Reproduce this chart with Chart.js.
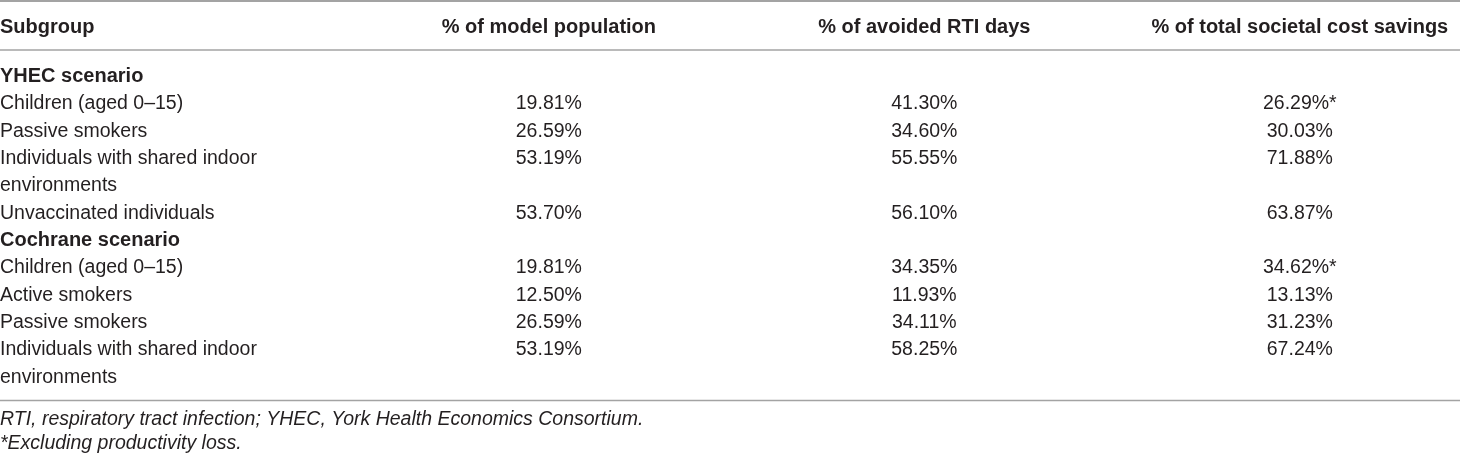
<!DOCTYPE html>
<html lang="en">
<head>
    <meta charset="UTF-8">
    <title>Subgroup shares</title>
    <script src="https://cdn.jsdelivr.net/npm/chart.js"></script>
    <style>
        html, body { margin: 0; padding: 0; background: #fff; }
        .chart-container { width: 1460px; height: 459px; position: relative; }
    </style>
</head>
<body>

<div class="chart-container">
    <canvas id="subgroupTable"></canvas>
</div>

<script>
    // Table content
    const columnHeaders = ['Subgroup', '% of model population', '% of avoided RTI days', '% of total societal cost savings'];
    const scenarios = ['YHEC scenario', 'Cochrane scenario'];

    const yhecGroups = ['Children (aged 0–15)', 'Passive smokers', 'Individuals with shared indoor environments', 'Unvaccinated individuals'];
    const yhecPopulation = [19.81, 26.59, 53.19, 53.70];
    const yhecAvoidedDays = [41.30, 34.60, 55.55, 56.10];
    const yhecCostSavings = [26.29, 30.03, 71.88, 63.87];
    const yhecMarks = ['*', '', '', ''];

    const cochraneGroups = ['Children (aged 0–15)', 'Active smokers', 'Passive smokers', 'Individuals with shared indoor environments'];
    const cochranePopulation = [19.81, 12.50, 26.59, 53.19];
    const cochraneAvoidedDays = [34.35, 11.93, 34.11, 58.25];
    const cochraneCostSavings = [34.62, 13.13, 31.23, 67.24];
    const cochraneMarks = ['*', '', '', ''];

    const footnotes = [
        'RTI, respiratory tract infection; YHEC, York Health Economics Consortium.',
        '*Excluding productivity loss.'
    ];

    // Layout (scale units: x = column, y = text line)
    const X_MIN = -0.4616, X_MAX = 3.4265;
    const Y_MIN = -3.0, Y_MAX = 13.8;
    const HEADER_LINE = -1.8;
    const RULES = [{ y: -2.96, w: 2 }, { y: -1.17, w: 1.5 }, { y: 11.66, w: 1.5 }];
    const FOOTNOTE_LINES = [12.57, 13.43];
    const LABEL_WIDTH = 300;

    const FAMILY = '"Liberation Sans", Arial, Helvetica, sans-serif';
    const TEXT_COLOR = '#231f20';
    const RULE_COLOR = '#a3a3a3';
    const fonts = {
        bold: 'bold 20px ' + FAMILY,
        regular: '19.5px ' + FAMILY,
        italic: 'italic 19.5px ' + FAMILY
    };

    // wrap long subgroup names to the first column width
    const measureCtx = document.createElement('canvas').getContext('2d');
    function wrap(text) {
        measureCtx.font = fonts.regular;
        const words = text.split(' ');
        const lines = [];
        let cur = '';
        words.forEach(w => {
            const test = cur ? cur + ' ' + w : w;
            if (cur && measureCtx.measureText(test).width > LABEL_WIDTH) {
                lines.push(cur);
                cur = w;
            } else {
                cur = test;
            }
        });
        lines.push(cur);
        return lines;
    }

    // Build the cells
    const headerCells = { points: [], texts: [], marks: [] };
    const sectionCells = { points: [], texts: [], marks: [] };
    const labelCells = { points: [], texts: [], marks: [] };
    const valueCells = { points: [], texts: [], marks: [] };
    const noteCells = { points: [], texts: [], marks: [] };

    columnHeaders.forEach((h, i) => {
        headerCells.points.push({ x: i === 0 ? X_MIN : i, y: HEADER_LINE });
        headerCells.texts.push(h);
        headerCells.marks.push('');
    });

    const blocks = [
        [yhecGroups, [yhecPopulation, yhecAvoidedDays, yhecCostSavings], yhecMarks],
        [cochraneGroups, [cochranePopulation, cochraneAvoidedDays, cochraneCostSavings], cochraneMarks]
    ];

    let line = 0;
    blocks.forEach(([groups, cols, marks], b) => {
        sectionCells.points.push({ x: X_MIN, y: line });
        sectionCells.texts.push(scenarios[b]);
        sectionCells.marks.push('');
        line++;
        groups.forEach((g, r) => {
            cols.forEach((vals, c) => {
                valueCells.points.push({ x: c + 1, y: line });
                valueCells.texts.push(vals[r].toFixed(2) + '%');
                valueCells.marks.push(c === 2 ? marks[r] : '');
            });
            wrap(g).forEach(part => {
                labelCells.points.push({ x: X_MIN, y: line });
                labelCells.texts.push(part);
                labelCells.marks.push('');
                line++;
            });
        });
    });

    footnotes.forEach((f, i) => {
        noteCells.points.push({ x: X_MIN, y: FOOTNOTE_LINES[i] });
        noteCells.texts.push(f);
        noteCells.marks.push('');
    });

    function makeSet(cells, font) {
        return {
            data: cells.points,
            cellText: cells.texts,
            cellMark: cells.marks,
            cellFont: font,
            pointRadius: 0,
            pointHoverRadius: 0
        };
    }

    // Draws rules and cell texts at the positions given by the scales
    const tablePlugin = {
        id: 'tableText',
        beforeDatasetsDraw(chart) {
            const { ctx, chartArea, scales } = chart;
            ctx.save();
            ctx.strokeStyle = RULE_COLOR;
            RULES.forEach(r => {
                const y = scales.y.getPixelForValue(r.y);
                ctx.lineWidth = r.w;
                ctx.beginPath();
                ctx.moveTo(chartArea.left, y);
                ctx.lineTo(chartArea.right, y);
                ctx.stroke();
            });
            ctx.restore();
        },
        afterDatasetsDraw(chart) {
            const ctx = chart.ctx;
            ctx.save();
            ctx.fillStyle = TEXT_COLOR;
            ctx.textBaseline = 'alphabetic';
            chart.data.datasets.forEach((ds, i) => {
                const meta = chart.getDatasetMeta(i);
                ctx.font = ds.cellFont;
                meta.data.forEach((pt, j) => {
                    const text = ds.cellText[j];
                    const mark = ds.cellMark[j];
                    const left = ds.data[j].x === X_MIN;
                    const tw = ctx.measureText(text).width;
                    const mw = mark ? ctx.measureText(mark).width : 0;
                    const x0 = left ? pt.x : pt.x - (tw + mw) / 2;
                    ctx.textAlign = 'left';
                    ctx.fillText(text, x0, pt.y);
                    if (mark) ctx.fillText(mark, x0 + tw, pt.y);
                });
            });
            ctx.restore();
        }
    };

    const config = {
        type: 'scatter',
        data: {
            datasets: [
                makeSet(headerCells, fonts.bold),
                makeSet(sectionCells, fonts.bold),
                makeSet(labelCells, fonts.regular),
                makeSet(valueCells, fonts.regular),
                makeSet(noteCells, fonts.italic)
            ]
        },
        options: {
            responsive: true,
            maintainAspectRatio: false,
            animation: false,
            events: [],
            layout: { padding: 0 },
            scales: {
                x: { type: 'linear', min: X_MIN, max: X_MAX, display: false },
                y: { type: 'linear', min: Y_MIN, max: Y_MAX, reverse: true, display: false }
            },
            plugins: {
                legend: { display: false },
                tooltip: { enabled: false }
            }
        },
        plugins: [tablePlugin]
    };

    const subgroupTable = new Chart(document.getElementById('subgroupTable'), config);
</script>

</body>
</html>
